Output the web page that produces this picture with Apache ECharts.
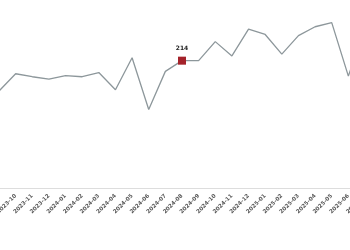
<!DOCTYPE html>
<html>
<head>
<meta charset="utf-8">
<script src="https://cdn.jsdelivr.net/npm/echarts@6/dist/echarts.min.js"></script>
<style>html,body{margin:0;padding:0;background:#fff}#c{width:350px;height:250px}</style>
</head>
<body>
<div id="c"></div>
<script>
var categories = ['2023-09','2023-10','2023-11','2023-12','2024-01','2024-02','2024-03','2024-04','2024-05','2024-06','2024-07','2024-08','2024-09','2024-10','2024-11','2024-12','2025-01','2025-02','2025-03','2025-04','2025-05','2025-06','2025-07'];
var values = [163,192,187,183,189,187,194,165,219,132,196,214,214,246,222,267,258,225,256,271,278,188,270];
var highlightIndex = 11;

var chart = echarts.init(document.getElementById('c'), null, {renderer:'canvas'});
var data = values.map(function(v,i){
  if(i===highlightIndex){
    return {value:v, symbol:'rect', symbolSize:8, itemStyle:{color:'#a4222a'},
      label:{show:true, position:'top', distance:5, fontSize:6, fontWeight:'bold', color:'#222', fontFamily:'DejaVu Sans'}};
  }
  return v;
});
chart.setOption({
  animation:false,
  grid:{left:-1, right:-15, top:9.5, bottom:62, containLabel:false, outerBoundsMode:'none'},
  xAxis:{type:'category', data:categories, boundaryGap:false,
    axisLine:{show:true, lineStyle:{color:'#dddddd', width:1}},
    axisTick:{show:false},
    axisLabel:{rotate:45, interval:0, fontSize:5.5, fontWeight:'bold', color:'#5a5a5a', margin:7, fontFamily:'DejaVu Sans'}
  },
  yAxis:{type:'value', min:0, max:300, show:false, splitLine:{show:false}},
  series:[{type:'line', data:data, symbol:'none', showSymbol:true,
    lineStyle:{color:'#8d979b', width:1.3}, itemStyle:{color:'#8d979b'}}]
});
</script>
</body>
</html>
